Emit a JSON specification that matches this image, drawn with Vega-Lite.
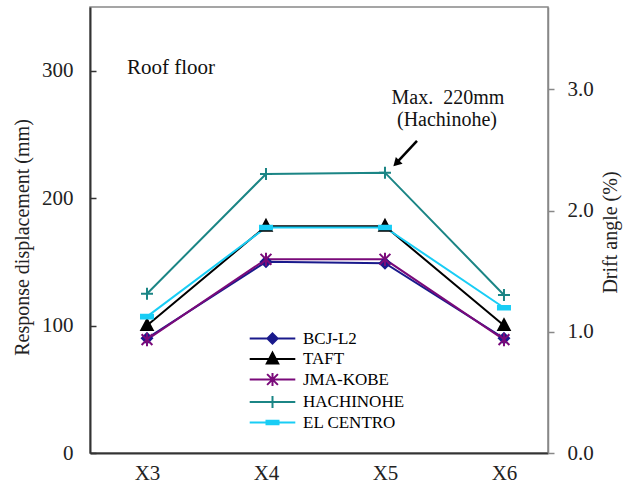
{
  "$schema": "https://vega.github.io/schema/vega-lite/v6.json",
  "width": 458,
  "height": 446,
  "autosize": "none",
  "padding": {"left": 90, "top": 7, "right": 80, "bottom": 33},
  "background": "white",
  "config": {
    "view": {"stroke": "#888888", "strokeWidth": 1.5},
    "font": "Liberation Serif",
    "axis": {
      "labelFont": "Liberation Serif",
      "titleFont": "Liberation Serif",
      "labelFontSize": 21,
      "titleFontSize": 20,
      "labelColor": "#222222",
      "titleColor": "#222222",
      "titleFontWeight": "normal",
      "grid": false
    },
    "legend": {
      "orient": "none", "legendX": 174, "legendY": 323, "title": null,
      "labelFont": "Liberation Serif", "labelFontSize": 17, "labelColor": "#000000",
      "labelOffset": 22, "symbolSize": 144, "symbolStrokeWidth": 2, "symbolOpacity": 1,
      "rowPadding": 0.5, "padding": 0
    }
  },
  "data": {
    "values": [
      {"series": "BCJ-L2", "line": 3, "disp": 90},
      {"series": "BCJ-L2", "line": 4, "disp": 150},
      {"series": "BCJ-L2", "line": 5, "disp": 149},
      {"series": "BCJ-L2", "line": 6, "disp": 90},
      {"series": "TAFT", "line": 3, "disp": 100},
      {"series": "TAFT", "line": 4, "disp": 178},
      {"series": "TAFT", "line": 5, "disp": 178},
      {"series": "TAFT", "line": 6, "disp": 100},
      {"series": "JMA-KOBE", "line": 3, "disp": 89},
      {"series": "JMA-KOBE", "line": 4, "disp": 152},
      {"series": "JMA-KOBE", "line": 5, "disp": 152},
      {"series": "JMA-KOBE", "line": 6, "disp": 89},
      {"series": "HACHINOHE", "line": 3, "disp": 125},
      {"series": "HACHINOHE", "line": 4, "disp": 219},
      {"series": "HACHINOHE", "line": 5, "disp": 220},
      {"series": "HACHINOHE", "line": 6, "disp": 124},
      {"series": "EL CENTRO", "line": 3, "disp": 107},
      {"series": "EL CENTRO", "line": 4, "disp": 177},
      {"series": "EL CENTRO", "line": 5, "disp": 177},
      {"series": "EL CENTRO", "line": 6, "disp": 114}
    ]
  },
  "layer": [
    {
      "layer": [
        {
          "mark": {"type": "line", "strokeWidth": 2},
          "encoding": {
            "x": {
              "field": "line", "type": "quantitative",
              "scale": {"domain": [2.521, 6.37], "nice": false, "zero": false},
              "axis": {"values": [3, 4, 5, 6], "labelExpr": "'X' + datum.value", "tickSize": 0, "labelPadding": 9, "domainColor": "#333333", "domainWidth": 2, "title": null, "labelFlush": false}
            },
            "y": {
              "field": "disp", "type": "quantitative",
              "scale": {"domain": [0, 350], "nice": false},
              "axis": {"orient": "left", "values": [0, 100, 200, 300], "tickSize": -6, "tickColor": "#333333", "tickWidth": 1.5, "labelPadding": 23, "domainColor": "#333333", "domainWidth": 2, "title": "Response displacement (mm)", "titleX": -68, "titleY": 230, "titleBaseline": "middle", "titleAngle": -90}
            },
            "stroke": {
              "field": "series", "type": "nominal",
              "scale": {"domain": ["BCJ-L2", "TAFT", "JMA-KOBE", "HACHINOHE", "EL CENTRO"], "range": ["#1a1a8c", "#000000", "#7a0a7a", "#1b8585", "#19cdf5"]},
              "legend": null
            }
          }
        },
        {
          "mark": {"type": "point", "size": 144, "strokeWidth": 2, "opacity": 1, "filled": false},
          "encoding": {
            "x": {"field": "line", "type": "quantitative"},
            "y": {"field": "disp", "type": "quantitative"},
            "stroke": {
              "field": "series", "type": "nominal",
              "scale": {"domain": ["BCJ-L2", "TAFT", "JMA-KOBE", "HACHINOHE", "EL CENTRO"], "range": ["#1a1a8c", "#000000", "#7a0a7a", "#1b8585", "#19cdf5"]},
              "legend": null
            },
            "fill": {
              "field": "series", "type": "nominal",
              "scale": {"domain": ["BCJ-L2", "TAFT", "JMA-KOBE", "HACHINOHE", "EL CENTRO"], "range": ["#1a1a8c", "#000000", "#7a0a7a", "#1b8585", "#19cdf5"]},
              "legend": null
            },
            "shape": {
              "field": "series", "type": "nominal",
              "scale": {"domain": ["BCJ-L2", "TAFT", "JMA-KOBE", "HACHINOHE", "EL CENTRO"], "range": [
                "M0,-0.85L0.85,0L0,0.85L-0.85,0Z",
                "M0,-1.05L0.95,0.75L-0.95,0.75Z",
                "M-0.9,-0.9L0.9,0.9M-0.9,0.9L0.9,-0.9M0,-1.1L0,1.1",
                "M-1,0L1,0M0,-1L0,1",
                "M-1,-0.3L1,-0.3L1,0.3L-1,0.3Z"
              ]},
              "legend": null
            }
          }
        },
        {
          "mark": {"type": "point", "size": 144, "strokeWidth": 2, "opacity": 0, "filled": false},
          "encoding": {
            "x": {"field": "line", "type": "quantitative"},
            "y": {"field": "disp", "type": "quantitative"},
            "stroke": {
              "field": "series", "type": "nominal",
              "scale": {"domain": ["BCJ-L2", "TAFT", "JMA-KOBE", "HACHINOHE", "EL CENTRO"], "range": ["#1a1a8c", "#000000", "#7a0a7a", "#1b8585", "#19cdf5"]},
              "legend": {"title": null}
            },
            "fill": {
              "field": "series", "type": "nominal",
              "scale": {"domain": ["BCJ-L2", "TAFT", "JMA-KOBE", "HACHINOHE", "EL CENTRO"], "range": ["#1a1a8c", "#000000", "#7a0a7a", "#1b8585", "#19cdf5"]},
              "legend": {"title": null}
            },
            "shape": {
              "field": "series", "type": "nominal",
              "scale": {"domain": ["BCJ-L2", "TAFT", "JMA-KOBE", "HACHINOHE", "EL CENTRO"], "range": [
                "M-3.8,0L3.8,0M0,-0.85L0.85,0L0,0.85L-0.85,0Z",
                "M-3.8,0L3.8,0M0,-1.05L0.95,0.75L-0.95,0.75Z",
                "M-3.8,0L3.8,0M-0.9,-0.9L0.9,0.9M-0.9,0.9L0.9,-0.9M0,-1.1L0,1.1",
                "M-3.8,0L3.8,0M0,-1L0,1",
                "M-3.8,0L3.8,0M-1,-0.3L1,-0.3L1,0.3L-1,0.3Z"
              ]},
              "legend": {"title": null}
            }
          }
        },
        {
          "data": {"values": [{}]},
          "mark": {"type": "text", "text": "Roof floor", "align": "left", "baseline": "middle", "fontSize": 21, "font": "Liberation Serif", "color": "#111111"},
          "encoding": {
            "x": {"datum": 2.832, "type": "quantitative"},
            "y": {"datum": 302, "type": "quantitative"}
          }
        },
        {
          "data": {"values": [{}]},
          "mark": {"type": "text", "text": "Max.\u00a0 220mm", "align": "center", "baseline": "middle", "fontSize": 20, "font": "Liberation Serif", "color": "#111111"},
          "encoding": {
            "x": {"datum": 5.529, "type": "quantitative"},
            "y": {"datum": 278.6, "type": "quantitative"}
          }
        },
        {
          "data": {"values": [{}]},
          "mark": {"type": "text", "text": "(Hachinohe)", "align": "center", "baseline": "middle", "fontSize": 20, "font": "Liberation Serif", "color": "#111111"},
          "encoding": {
            "x": {"datum": 5.521, "type": "quantitative"},
            "y": {"datum": 261.4, "type": "quantitative"}
          }
        },
        {
          "data": {"values": [{}]},
          "mark": {"type": "rule", "strokeWidth": 2.5, "color": "#000000"},
          "encoding": {
            "x": {"datum": 5.269, "type": "quantitative"},
            "y": {"datum": 244.9, "type": "quantitative"},
            "x2": {"datum": 5.101},
            "y2": {"datum": 228.0}
          }
        },
        {
          "data": {"values": [{}]},
          "mark": {"type": "point", "shape": "triangle-up", "filled": true, "color": "#000000", "size": 90, "angle": 225, "opacity": 1},
          "encoding": {
            "x": {"datum": 5.095, "type": "quantitative"},
            "y": {"datum": 227.3, "type": "quantitative"}
          }
        }
      ],
      "resolve": {"scale": {"shape": "independent", "stroke": "independent", "fill": "independent"}}
    },
    {
      "data": {"values": [{}]},
      "mark": {"type": "rule", "opacity": 0},
      "encoding": {
        "y": {
          "datum": 0, "type": "quantitative",
          "scale": {"domain": [0, 3.68], "nice": false},
          "axis": {"orient": "right", "values": [0, 1, 2, 3], "format": ".1f", "tickSize": 6, "tickColor": "#888888", "tickWidth": 1.5, "labelPadding": 13, "domainColor": "#888888", "domainWidth": 1.5, "title": "Drift angle (%)", "titleAngle": -90, "titleX": 62, "titleY": 225, "titleBaseline": "middle"}
        }
      }
    }
  ],
  "resolve": {"scale": {"y": "independent"}}
}
